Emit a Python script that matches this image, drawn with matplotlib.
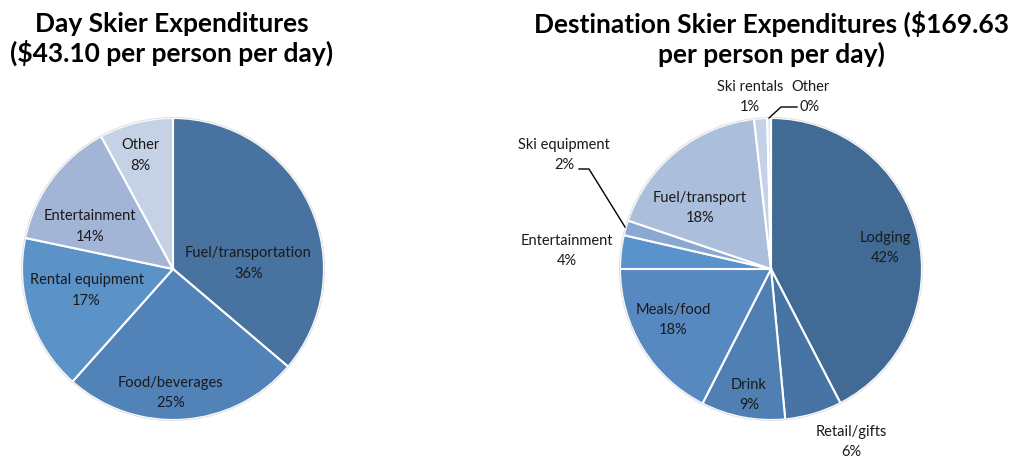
import matplotlib
matplotlib.use("Agg")
import matplotlib.pyplot as plt
import numpy as np

plt.rcParams['font.family'] = ['Lato', 'DejaVu Sans']

# ---- data ----
day_categories = ["Fuel/transportation", "Food/beverages", "Rental equipment", "Entertainment", "Other"]
day_values = [36.2, 25.4, 16.7, 13.8, 7.9]

dest_categories = ["Lodging", "Retail/gifts", "Drink", "Meals/food", "Entertainment",
                   "Ski equipment", "Fuel/transport", "Ski rentals", "Other"]
dest_values = [42.4, 6.1, 9.0, 17.5, 3.6, 1.6, 18.0, 1.4, 0.4]

day_title = "Day Skier Expenditures\n($43.10 per person per day)"
dest_title = "Destination Skier Expenditures ($169.63\nper person per day)"

# ---- styles ----
day_colors = ["#48729f", "#5183b8", "#5b93c9", "#a2b5d6", "#c5d1e5"]
dest_colors = ["#416a94", "#4874a5", "#4f7fb3", "#5789c0", "#5a93cc",
               "#89a8d2", "#abbedb", "#c5d1e6", "#dfe6f1"]

W, H = 1013, 458
fig = plt.figure(figsize=(W / 100, H / 100), dpi=100)
ax = fig.add_axes([0, 0, 1, 1])

R = 151
day_center = (173, H - 269)
dest_center = (771, H - 269)

wp = dict(edgecolor='white', linewidth=1.5)
ax.pie(day_values, colors=day_colors, startangle=90, counterclock=False,
       radius=R, center=day_center, wedgeprops=wp, frame=True)
ax.pie(dest_values, colors=dest_colors, startangle=90, counterclock=False,
       radius=R, center=dest_center, wedgeprops=wp, frame=True)
for c in (day_center, dest_center):
    ax.add_patch(plt.Circle(c, R + 0.5, fill=False, edgecolor='#e2e2e2', linewidth=0.8))
ax.set_xlim(0, W)
ax.set_ylim(0, H)
ax.set_aspect('equal')
ax.axis('off')

def pct(v):
    return "%d%%" % int(v + 0.5)

fs = 10.5
ls = 1.6
# label positions: (angle deg, fraction of radius) relative to pie center
day_label_pos = [(4, 0.50), (-91, 0.82), (-166, 0.59), (153, 0.62), (106, 0.78)]
for name, v, (a, f) in zip(day_categories, day_values, day_label_pos):
    x = day_center[0] + f * R * np.cos(np.radians(a))
    y = day_center[1] + f * R * np.sin(np.radians(a))
    ax.text(x, y, f"{name}\n{pct(v)}", ha='center', va='center', fontsize=fs,
            color='#1a1a1a', linespacing=ls)

# destination labels: pixel offsets from pie center (dx, dy)
dest_label_off = [(114, 21), (80, -173), (-22, -126), (-98, -51), (-204, 18),
                  (-207, 114), (-71, 61), (-21, 172), (39, 172)]
for name, v, (dx, dy) in zip(dest_categories, dest_values, dest_label_off):
    ax.text(dest_center[0] + dx, dest_center[1] + dy, f"{name}\n{pct(v)}",
            ha='center', va='center', fontsize=fs, color='#1a1a1a', linespacing=ls)

def L(pts):
    xs = [p[0] for p in pts]
    ys = [H - p[1] for p in pts]
    ax.plot(xs, ys, color='black', linewidth=1.0)

L([(579, 169), (589, 169), (625, 227)])
L([(797, 107), (781, 107), (769, 118)])

ax.text(172, H - 39, day_title, ha='center', va='center', fontsize=19,
        fontweight='bold', linespacing=1.2)
ax.text(771, H - 39, dest_title, ha='center', va='center', fontsize=19,
        fontweight='bold', linespacing=1.2)

fig.savefig("out.png", dpi=100)
